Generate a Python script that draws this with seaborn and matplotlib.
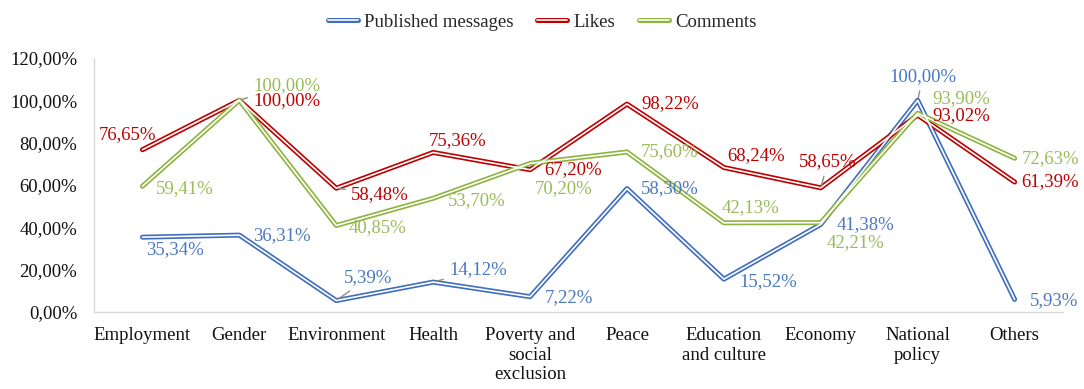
# double-line chart: messages, likes, comments by topic

import seaborn as sns
import matplotlib.pyplot as plt
import pandas as pd
from matplotlib.lines import Line2D
from matplotlib.legend_handler import HandlerTuple

topics = ['Employment', 'Gender', 'Environment', 'Health', 'Poverty and\nsocial\nexclusion',
          'Peace', 'Education\nand culture', 'Economy', 'National\npolicy', 'Others']
published = [35.34, 36.31, 5.39, 14.12, 7.22, 58.30, 15.52, 41.38, 100.00, 5.93]
likes = [76.65, 100.00, 58.48, 75.36, 67.20, 98.22, 68.24, 58.65, 93.02, 61.39]
comments = [59.41, 100.00, 40.85, 53.70, 70.20, 75.60, 42.13, 42.21, 93.90, 72.63]
series_names = ['Published messages', 'Likes', 'Comments']

line_colors = {'Published messages': '#3F6DBF', 'Likes': '#C00000', 'Comments': '#8DB43E'}
text_colors = {'Published messages': '#4A78C2', 'Likes': '#C00000', 'Comments': '#9BBB59'}

# label offsets in pixels (dx, dy, ha, leader line)
offsets = {
    'Published messages': [(4, -12, 'left', 0), (14, 0, 'left', 0), (8, 23, 'left', 1), (16, 12, 'left', 1),
                           (15, -1, 'left', 0), (14, 0, 'left', 0), (16, -2, 'left', 0), (16, 0, 'left', 0),
                           (5, 24, 'center', 1), (15, -1, 'left', 0)],
    'Likes': [(-15, 15, 'center', 0), (14, 0, 'left', 0), (15, -6, 'left', 1), (24, 12, 'center', 0),
              (14, 0, 'left', 0), (14, 0, 'left', 0), (3, 12, 'left', 0), (7, 26, 'center', 1),
              (15, -1, 'left', 0), (7, 0, 'left', 0)],
    'Comments': [(13, -2, 'left', 0), (14, 15, 'left', 1), (12, -2, 'left', 0), (15, -2, 'left', 0),
                 (5, -25, 'left', 0), (14, 0, 'left', 0), (-2, 15, 'left', 0), (6, -20, 'left', 0),
                 (15, 15, 'left', 0), (7, 0, 'left', 0)],
}

df = pd.DataFrame({
    'x': list(range(len(topics))) * 3,
    'value': published + likes + comments,
    'series': [s for s in series_names for _ in topics],
})

sns.set_theme(style='white')
plt.rcParams['font.family'] = ['Liberation Serif', 'DejaVu Serif']

fig = plt.figure(figsize=(10.84, 3.89), dpi=100)
ax = fig.add_axes([0.0867, 0.198, 0.894, 0.653])

sns.lineplot(data=df, x='x', y='value', hue='series', palette=line_colors,
             linewidth=3.6, legend=False, ax=ax, sort=False)
sns.lineplot(data=df, x='x', y='value', units='series', estimator=None, color='white',
             linewidth=1.2, legend=False, ax=ax, sort=False)

for name in series_names:
    vals = df[df['series'] == name]['value'].tolist()
    for i, v in enumerate(vals):
        dx, dy, ha, lead = offsets[name][i]
        txt = f'{v:.2f}%'.replace('.', ',')
        ap = None
        if lead:
            ap = dict(arrowstyle='-', color='#8C8C8C', lw=1, shrinkA=2, shrinkB=2)
        ax.annotate(txt, xy=(i, v), xytext=(dx * 0.72, dy * 0.72), textcoords='offset points',
                    ha=ha, va='center', fontsize=13.5, color=text_colors[name], arrowprops=ap)

ax.set_xlim(-0.5, 9.5)
ax.set_ylim(0, 120)
ax.set_xticks(range(len(topics)))
ax.set_xticklabels(topics, fontsize=13.5, linespacing=1.2, va='top')
yt = [0, 20, 40, 60, 80, 100, 120]
ax.set_yticks(yt)
ax.set_yticklabels([f'{t:.2f}%'.replace('.', ',') for t in yt], fontsize=13.5)
ax.tick_params(axis='x', length=0, pad=11, colors='#111111')
ax.tick_params(axis='y', length=0, pad=12, colors='#111111')
ax.set_xlabel('')
ax.set_ylabel('')
ax.grid(False)
for side in ['top', 'right']:
    ax.spines[side].set_visible(False)
for side in ['left', 'bottom']:
    ax.spines[side].set_color('#D9D9D9')
    ax.spines[side].set_linewidth(1)

handles = [(Line2D([], [], color=line_colors[n], lw=3.6), Line2D([], [], color='white', lw=1.2))
           for n in series_names]
fig.legend(handles, series_names, loc='center', bbox_to_anchor=(0.5, 0.943), ncol=3,
           frameon=False, fontsize=13.5, handlelength=1.6, handletextpad=0.3, columnspacing=1.3,
           handler_map={tuple: HandlerTuple(ndivide=1)})

plt.savefig('out.png', dpi=100)
